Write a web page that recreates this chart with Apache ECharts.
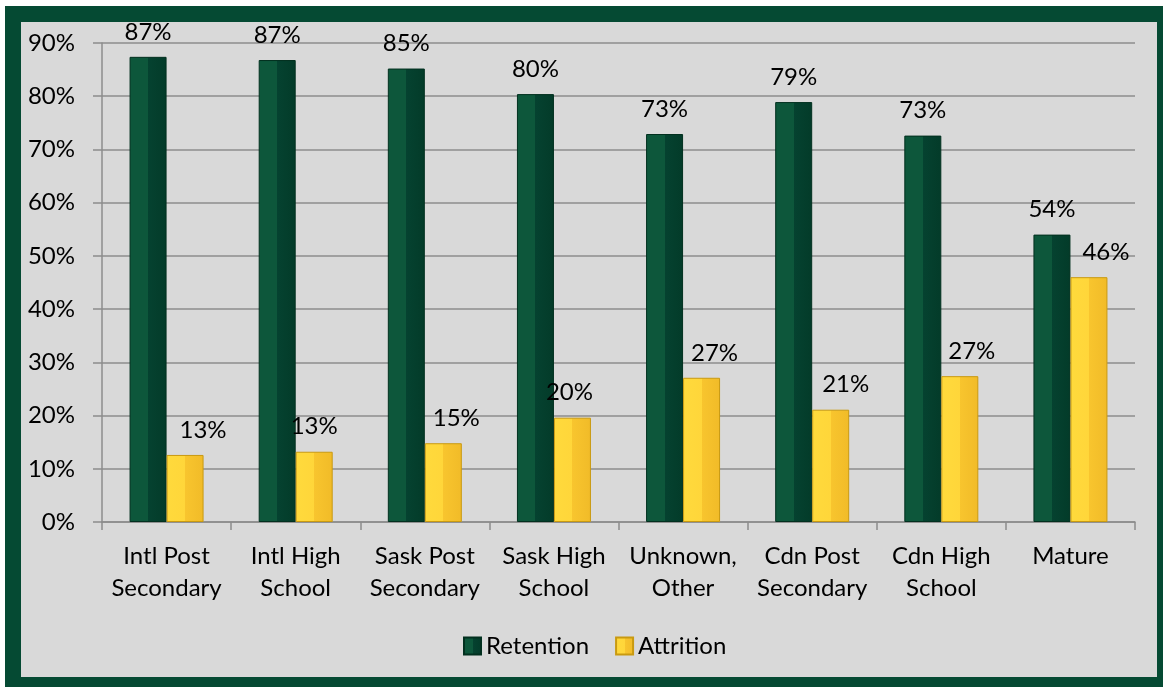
<!DOCTYPE html>
<html>
<head>
<meta charset="utf-8">
<script src="https://cdn.jsdelivr.net/npm/echarts@6/dist/echarts.min.js"></script>
<style>
  html, body { margin: 0; padding: 0; width: 1163px; height: 687px; overflow: hidden; background: #ffffff; }
  #frame { position: absolute; left: 5px; top: 6px; width: 1200px; height: 700px; background: #054a33; }
  #inner { position: absolute; left: 21px; top: 22px; width: 1136px; height: 655px; background: #d9d9d9; }
  #chart { position: absolute; left: 0; top: 0; width: 1163px; height: 687px; }
</style>
</head>
<body>
<div id="frame"></div>
<div id="inner"></div>
<div id="chart"></div>
<script>
const categories = [
  'Intl Post\nSecondary', 'Intl High\nSchool', 'Sask Post\nSecondary', 'Sask High\nSchool',
  'Unknown,\nOther', 'Cdn Post\nSecondary', 'Cdn High\nSchool', 'Mature'
];
const retention = [87.4, 86.8, 85.2, 80.4, 72.9, 78.9, 72.6, 54.0];
const attrition = [12.6, 13.2, 14.8, 19.6, 27.1, 21.1, 27.4, 46.0];
const yTicks = [0, 10, 20, 30, 40, 50, 60, 70, 80, 90];

const attrLabelDx = [18, 0, 13, -3, 13, 15, 12, 17];

const FONT = 'Lato';

const greenFill = {
  type: 'linear', x: 0, y: 0, x2: 1, y2: 0,
  colorStops: [
    { offset: 0, color: '#0d573b' }, { offset: 0.5, color: '#0d573b' },
    { offset: 0.5, color: '#054230' }, { offset: 1, color: '#033b29' }
  ]
};
const yellowFill = {
  type: 'linear', x: 0, y: 0, x2: 1, y2: 0,
  colorStops: [
    { offset: 0, color: '#ffda3c' }, { offset: 0.5, color: '#ffd63a' },
    { offset: 0.5, color: '#f8c52e' }, { offset: 1, color: '#f1bb28' }
  ]
};

const chart = echarts.init(document.getElementById('chart'), null, { renderer: 'canvas' });
chart.setOption({
  backgroundColor: 'transparent',
  animation: false,
  textStyle: { fontFamily: FONT },
  grid: { left: 102, right: 28, top: 43, bottom: 165, containLabel: false },
  legend: {
    left: 458, top: 629,
    itemWidth: 17, itemHeight: 17, itemGap: 26,
    textStyle: { fontFamily: FONT, fontSize: 24, color: '#000' },
    data: [
      { name: 'Retention', icon: 'rect' },
      { name: 'Attrition', icon: 'rect' }
    ]
  },
  xAxis: {
    type: 'category',
    data: categories,
    axisLine: { lineStyle: { color: '#8c8c8c', width: 1.5 } },
    axisTick: { show: true, length: 8, lineStyle: { color: '#8c8c8c', width: 1.5 } },
    axisLabel: { color: '#000', fontFamily: FONT, fontSize: 24, lineHeight: 32, margin: 18, interval: 0 }
  },
  yAxis: {
    type: 'value',
    min: yTicks[0], max: yTicks[yTicks.length - 1], interval: 10,
    axisLine: { show: true, lineStyle: { color: '#8c8c8c', width: 1.5 } },
    axisTick: { show: true, length: 9, lineStyle: { color: '#8c8c8c', width: 1.5 } },
    splitLine: { lineStyle: { color: '#8c8c8c', width: 1.5 } },
    axisLabel: { color: '#000', fontFamily: FONT, fontSize: 24, margin: 27, formatter: v => v + '%' }
  },
  series: [
    {
      name: 'Retention', type: 'bar', barWidth: 37, barGap: '0%',
      data: retention,
      itemStyle: { color: greenFill, borderColor: '#02301f', borderWidth: 1 },
      label: {
        show: true, position: 'top', distance: 13,
        color: '#000', fontFamily: FONT, fontSize: 24,
        formatter: p => Math.round(p.value) + '%'
      }
    },
    {
      name: 'Attrition', type: 'bar', barWidth: 37, barGap: '0%',
      data: attrition.map((v, i) => ({ value: v, label: { offset: [attrLabelDx[i], 0] } })),
      itemStyle: { color: yellowFill, borderColor: '#c99a10', borderWidth: 1 },
      label: {
        show: true, position: 'top', distance: 13,
        color: '#000', fontFamily: FONT, fontSize: 24,
        formatter: p => Math.round(p.value) + '%'
      }
    }
  ]
});
</script>
</body>
</html>
